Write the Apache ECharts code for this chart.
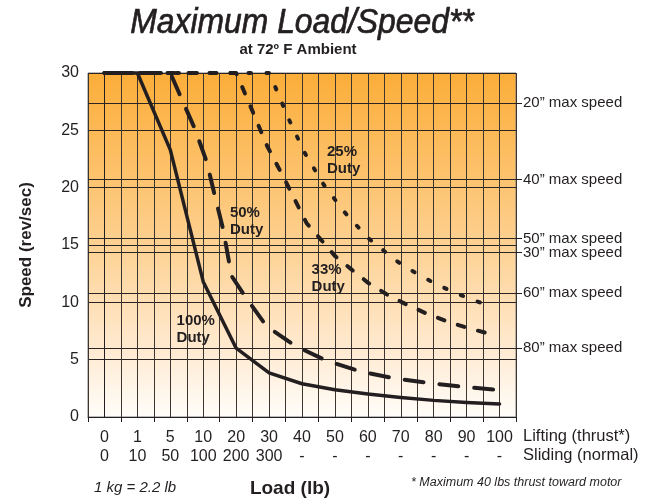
<!DOCTYPE html>
<html><head><meta charset="utf-8">
<script src="https://cdn.jsdelivr.net/npm/echarts@6/dist/echarts.min.js"></script>
<style>html,body{margin:0;padding:0;background:#fff}#c{width:652px;height:499px}</style>
</head><body><div id="c"></div>
<script>
const liftingLabels = ['0','1','5','10','20','30','40','50','60','70','80','90','100'];
const slidingLabels = ['0','10','50','100','200','300','-','-','-','-','-','-','-'];
const maxSpeedLabels = ['20\u201D max speed','40\u201D max speed','50\u201D max speed','30\u201D max speed','60\u201D max speed','80\u201D max speed'];
const maxSpeedValues = [27.4, 20.7, 15.55, 14.35, 10.8, 6.0];
// x = position on the load scale (0 -> "0", 12 -> "100"), y = speed (rev/sec)
const duty100 = [[0,30],[1,30],[2,23.3],[3,11.8],[4,6.0],[5,3.85],[6,2.9],[7,2.37],[8,2.0],[9,1.7],[10,1.45],[11,1.27],[12,1.14]];
const duty50 = [[0,30],[2,30],[2.75,25.1],[3.1,22.3],[3.36,19.2],[3.61,16.3],[3.86,12.3],[4.3,10.4],[4.93,7.9],[5.8,6.2],[6.75,4.9],[7.8,3.95],[8.85,3.35],[9.9,2.95],[11,2.6],[12,2.35]];
const duty33 = [[0,30],[4,30],[4.39,27.4],[4.93,23.7],[5.53,20.4],[6.14,16.9],[6.58,15.45],[7,14.05],[7.51,12.85],[8.01,11.7],[8.57,10.7],[9.18,9.8],[9.8,9.0],[10.44,8.3],[11.05,7.75],[11.71,7.25]];
const duty25 = [[0,30],[5,30],[5.2,28.7],[5.61,25.9],[6.09,23.0],[6.65,20.3],[7.28,17.9],[8.01,15.6],[8.42,14.65],[8.82,13.7],[9.28,12.85],[9.74,12.1],[10.21,11.4],[10.72,10.75],[11.2,10.2],[11.71,9.7]];
const dutyLabels = [[6.76,22.4,'25%\nDuty'],[3.81,17.1,'50%\nDuty'],[6.29,12.1,'33%\nDuty'],[2.19,7.6,'100%\nDuty']];

const INK = '#231F20';
const FONT = '"Liberation Sans", Arial, Helvetica, sans-serif';
const chart = echarts.init(document.getElementById('c'), null, {renderer: 'canvas'});

function curve(data, width, dash, cap) {
  return {
    type: 'line', xAxisIndex: 1, yAxisIndex: 0, data: data,
    showSymbol: false, symbol: 'none', clip: false, silent: true, z: 5,
    lineStyle: {color: INK, width: width, type: dash, cap: cap, join: 'round'}
  };
}

chart.setOption({
  animation: false,
  grid: {
    left: 88, right: 136, top: 73, bottom: 82, show: true,
    borderColor: '#7a7a7a', borderWidth: 1,
    backgroundColor: new echarts.graphic.LinearGradient(0, 0, 0, 1, [
      {offset: 0, color: '#FCAD38'},
      {offset: 0.45, color: '#FDCD88'},
      {offset: 0.8, color: '#FFEAD0'},
      {offset: 1, color: '#FFFDFA'}
    ])
  },
  xAxis: [{
    type: 'category', data: liftingLabels, boundaryGap: true, position: 'bottom',
    axisLine: {show: true, lineStyle: {color: INK, width: 1}},
    axisTick: {show: true, length: 5, lineStyle: {color: INK}},
    axisLabel: {
      color: INK, fontSize: 16, fontFamily: FONT, lineHeight: 19, margin: 11, interval: 0,
      formatter: (v, i) => liftingLabels[i] + '\n' + slidingLabels[i]
    },
    splitLine: {show: false}
  }, {
    type: 'value', min: -0.5, max: 12.5, interval: 0.5, position: 'bottom',
    axisLine: {show: false}, axisTick: {show: false}, axisLabel: {show: false},
    splitLine: {show: true, lineStyle: {color: '#3c3530', width: 1}}
  }],
  yAxis: [{
    type: 'value', min: 0, max: 30, interval: 5,
    axisLine: {show: true, lineStyle: {color: INK, width: 1}},
    axisTick: {show: true, length: 5, lineStyle: {color: INK}},
    axisLabel: {color: INK, fontSize: 16, fontFamily: FONT, margin: 9},
    splitLine: {show: true, lineStyle: {color: '#2a2523', width: 1}},
    name: 'Speed (rev/sec)', nameLocation: 'middle', nameRotate: 90, nameGap: 53,
    nameTextStyle: {color: INK, fontSize: 17, fontWeight: 'bold', fontFamily: FONT}
  }, {
    type: 'value', min: 0, max: 30, position: 'right',
    axisLine: {show: false},
    axisTick: {show: true, inside: false, length: 6, customValues: maxSpeedValues, lineStyle: {color: INK, width: 1}},
    axisLabel: {
      show: true, customValues: maxSpeedValues, margin: 7, color: INK, fontSize: 15, fontFamily: FONT,
      formatter: (v) => { const i = maxSpeedValues.indexOf(v); return i >= 0 ? maxSpeedLabels[i] : ''; }
    },
    splitLine: {show: false}
  }],
  series: [
    {
      type: 'line', xAxisIndex: 1, yAxisIndex: 0, data: [], silent: true,
      markLine: {
        silent: true, symbol: ['none', 'none'], animation: false,
        label: {show: false},
        lineStyle: {color: '#2a2523', width: 1, type: 'solid'},
        data: maxSpeedValues.map(v => ({yAxis: v}))
      }
    },
    curve(duty25, 4, [2.5, 15.5], 'round'),
    curve(duty33, 4, [7, 14], 'round'),
    curve(duty50, 4, [19, 16], 'round'),
    curve(duty100, 3.5, 'solid', 'round'),
    {
      type: 'scatter', xAxisIndex: 1, yAxisIndex: 0, symbolSize: 0, silent: true, z: 6,
      itemStyle: {opacity: 1},
      data: dutyLabels.map(d => [d[0], d[1]]),
      label: {
        show: true, position: 'inside', align: 'left', verticalAlign: 'middle', opacity: 1,
        color: INK, fontSize: 15, fontWeight: 'bold', fontFamily: FONT, lineHeight: 17,
        formatter: p => dutyLabels[p.dataIndex][2]
      }
    }
  ],
  graphic: [
    {type: 'text', x: 302, y: 6, scaleX: 0.91, style: {
      text: 'Maximum Load/Speed**', fill: INK, fontSize: 35, fontStyle: 'italic', align: 'center',
      stroke: INK, lineWidth: 0.7, fontFamily: FONT}},
    {type: 'text', x: 298, y: 42, style: {
      text: 'at 72\u00BA F Ambient', fill: INK, fontSize: 15, fontWeight: 'bold', fontFamily: FONT, align: 'center'}},
    {type: 'text', x: 523, y: 428, style: {text: 'Lifting (thrust*)', fill: INK, fontSize: 16.5, fontFamily: FONT}},
    {type: 'text', x: 523, y: 447, style: {text: 'Sliding (normal)', fill: INK, fontSize: 16.5, fontFamily: FONT}},
    {type: 'text', x: 290, y: 479, style: {text: 'Load (lb)', fill: INK, fontSize: 19, fontWeight: 'bold', fontFamily: FONT, align: 'center'}},
    {type: 'text', x: 94, y: 480, style: {text: '1 kg = 2.2 lb', fill: INK, fontSize: 15, fontStyle: 'italic', fontFamily: FONT}},
    {type: 'text', x: 411, y: 476, style: {text: '* Maximum 40 lbs thrust toward motor', fill: INK, fontSize: 12.5, fontStyle: 'italic', fontFamily: FONT}}
  ]
});
</script>
</body></html>
